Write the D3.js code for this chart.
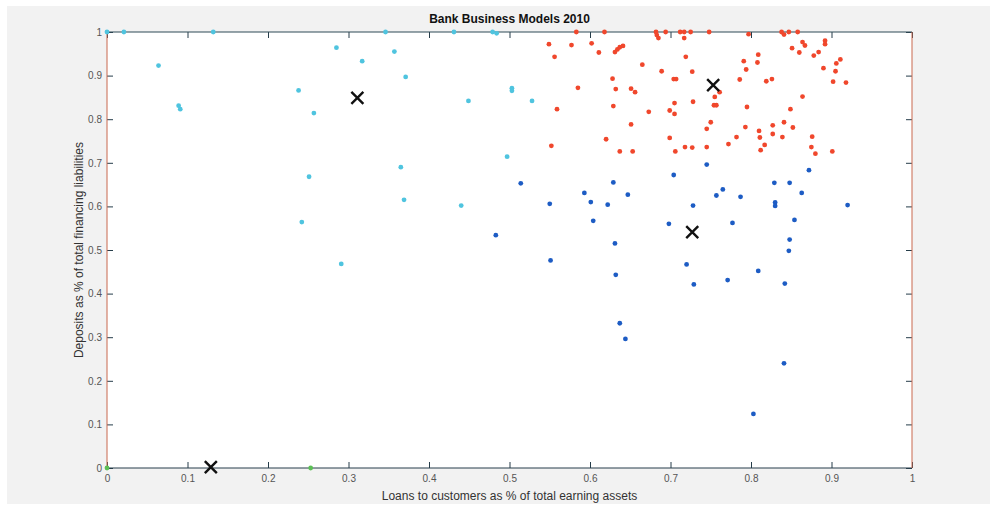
<!DOCTYPE html>
<html>
<head>
<meta charset="utf-8">
<script src="https://cdn.jsdelivr.net/npm/d3@7"></script>
<style>
  body { margin: 0; background: #ffffff; }
  svg { display: block; font-family: "Liberation Sans", Arial, sans-serif; }
</style>
</head>
<body>
<svg id="chart" width="990" height="510"></svg>
<script>
// cluster members, [loans share, deposits share]
const cyanBanks = [
  [0.0, 1.0], [0.021, 1.0], [0.132, 1.0], [0.064, 0.923], [0.089, 0.831], [0.091, 0.823],
  [0.238, 0.866], [0.257, 0.814], [0.251, 0.668], [0.285, 0.964], [0.346, 1.0], [0.431, 1.0],
  [0.479, 1.0], [0.484, 0.997], [0.357, 0.955], [0.317, 0.933], [0.371, 0.897], [0.449, 0.842],
  [0.503, 0.871], [0.503, 0.865], [0.528, 0.842], [0.497, 0.714], [0.365, 0.690], [0.369, 0.615],
  [0.242, 0.564], [0.440, 0.602], [0.291, 0.468]
];
const redBanks = [
  [0.583, 1.0], [0.618, 1.0], [0.682, 1.0], [0.683, 0.993], [0.685, 0.986], [0.694, 1.0],
  [0.712, 1.0], [0.717, 1.0], [0.725, 1.0], [0.748, 1.0], [0.549, 0.972], [0.577, 0.970],
  [0.602, 0.974], [0.717, 0.986], [0.556, 0.943], [0.611, 0.953], [0.631, 0.954], [0.634, 0.960],
  [0.637, 0.965], [0.641, 0.968], [0.719, 0.943], [0.665, 0.925], [0.689, 0.910], [0.727, 0.909],
  [0.704, 0.892], [0.707, 0.892], [0.628, 0.893], [0.585, 0.872], [0.632, 0.869], [0.651, 0.870],
  [0.656, 0.862], [0.761, 0.862], [0.755, 0.851], [0.705, 0.837], [0.728, 0.840], [0.754, 0.832],
  [0.757, 0.832], [0.559, 0.823], [0.629, 0.830], [0.673, 0.817], [0.699, 0.820], [0.705, 0.812],
  [0.750, 0.793], [0.745, 0.778], [0.651, 0.788], [0.620, 0.754], [0.699, 0.757], [0.772, 0.743],
  [0.552, 0.739], [0.637, 0.726], [0.653, 0.726], [0.706, 0.726], [0.718, 0.736], [0.727, 0.735],
  [0.745, 0.736], [0.797, 0.995], [0.838, 1.0], [0.841, 0.994], [0.847, 1.0], [0.858, 1.0],
  [0.851, 0.963], [0.864, 0.977], [0.867, 0.969], [0.860, 0.953], [0.892, 0.980], [0.892, 0.972],
  [0.884, 0.954], [0.878, 0.946], [0.809, 0.948], [0.808, 0.930], [0.791, 0.933], [0.794, 0.914],
  [0.911, 0.937], [0.906, 0.928], [0.905, 0.910], [0.890, 0.917], [0.902, 0.886], [0.918, 0.884],
  [0.786, 0.891], [0.819, 0.887], [0.826, 0.892], [0.864, 0.852], [0.795, 0.828], [0.849, 0.823],
  [0.841, 0.793], [0.852, 0.781], [0.793, 0.782], [0.827, 0.786], [0.827, 0.766], [0.810, 0.773],
  [0.811, 0.758], [0.839, 0.759], [0.782, 0.759], [0.876, 0.760], [0.875, 0.736], [0.880, 0.721],
  [0.817, 0.741], [0.812, 0.729], [0.901, 0.726]
];
const blueBanks = [
  [0.514, 0.653], [0.550, 0.606], [0.483, 0.534], [0.551, 0.476], [0.593, 0.631], [0.601, 0.610],
  [0.629, 0.655], [0.622, 0.604], [0.647, 0.627], [0.604, 0.567], [0.631, 0.515], [0.632, 0.443],
  [0.637, 0.332], [0.644, 0.296], [0.704, 0.672], [0.745, 0.696], [0.757, 0.625], [0.728, 0.602],
  [0.698, 0.560], [0.720, 0.467], [0.729, 0.421], [0.765, 0.639], [0.872, 0.683], [0.829, 0.654],
  [0.848, 0.654], [0.863, 0.631], [0.787, 0.622], [0.830, 0.609], [0.830, 0.601], [0.920, 0.603],
  [0.854, 0.569], [0.777, 0.562], [0.848, 0.524], [0.847, 0.498], [0.809, 0.452], [0.771, 0.431],
  [0.842, 0.423], [0.841, 0.240], [0.803, 0.124]
];
const greenBanks = [[0.0, 0.0], [0.253, 0.0]];
const centroids = [[0.311, 0.849], [0.753, 0.878], [0.727, 0.541], [0.129, 0.002]];

const xTicks = [0, 0.1, 0.2, 0.3, 0.4, 0.5, 0.6, 0.7, 0.8, 0.9, 1];
const yTicks = [0, 0.1, 0.2, 0.3, 0.4, 0.5, 0.6, 0.7, 0.8, 0.9, 1];

const svg = d3.select('#chart');
const plotLeft = 107, plotRight = 912, plotTop = 32, plotBottom = 468;

// figure background
svg.append('rect').attr('x', 7).attr('y', 6).attr('width', 983).attr('height', 498).attr('fill', '#f2f2f2');
svg.append('rect').attr('x', plotLeft).attr('y', plotTop)
  .attr('width', plotRight - plotLeft).attr('height', plotBottom - plotTop).attr('fill', '#ffffff');

const x = d3.scaleLinear().domain([0, 1]).range([plotLeft, plotRight]);
const y = d3.scaleLinear().domain([0, 1]).range([plotBottom, plotTop]);

const fmt = d => String(+d.toFixed(1));

function styleAxis(g) {
  g.select('.domain').remove();
  g.selectAll('.tick line').attr('stroke', '#263d4a').attr('stroke-width', 1);
  g.selectAll('.tick text').attr('fill', '#555').attr('font-size', 10);
}

svg.append('g').attr('transform', `translate(0,${plotBottom})`)
  .call(d3.axisBottom(x).tickValues(xTicks).tickFormat(fmt).tickSizeInner(-6).tickPadding(7))
  .call(styleAxis);
svg.append('g').attr('transform', `translate(0,${plotTop})`)
  .call(d3.axisTop(x).tickValues(xTicks).tickFormat('').tickSizeInner(-6))
  .call(styleAxis);
svg.append('g').attr('transform', `translate(${plotLeft},0)`)
  .call(d3.axisLeft(y).tickValues(yTicks).tickFormat(fmt).tickSizeInner(-6).tickPadding(5))
  .call(styleAxis);
svg.append('g').attr('transform', `translate(${plotRight},0)`)
  .call(d3.axisRight(y).tickValues(yTicks).tickFormat('').tickSizeInner(-6))
  .call(styleAxis);

// box
svg.append('line').attr('x1', plotLeft).attr('x2', plotRight).attr('y1', plotTop).attr('y2', plotTop).attr('stroke', '#2f4a56');
svg.append('line').attr('x1', plotLeft).attr('x2', plotRight).attr('y1', plotBottom).attr('y2', plotBottom).attr('stroke', '#263d4a');
svg.append('line').attr('x1', plotLeft).attr('x2', plotLeft).attr('y1', plotTop).attr('y2', plotBottom).attr('stroke', '#c9694e');
svg.append('line').attr('x1', plotRight).attr('x2', plotRight).attr('y1', plotTop).attr('y2', plotBottom).attr('stroke', '#c9694e');

function drawDots(data, color) {
  svg.append('g').selectAll('circle').data(data).join('circle')
    .attr('cx', d => x(d[0])).attr('cy', d => y(d[1])).attr('r', 2.4)
    .attr('fill', color);
}
drawDots(cyanBanks, '#4fc4df');
drawDots(redBanks, '#f0472c');
drawDots(blueBanks, '#1d5cc4');
drawDots(greenBanks, '#5cbf55');

const cross = svg.append('g').selectAll('g').data(centroids).join('g')
  .attr('transform', d => `translate(${x(d[0])},${y(d[1])})`);
cross.append('path').attr('d', 'M-6,-6L6,6M-6,6L6,-6')
  .attr('stroke', '#111').attr('stroke-width', 2.4).attr('fill', 'none');

svg.append('text').attr('x', (plotLeft + plotRight) / 2).attr('y', 23).attr('text-anchor', 'middle')
  .attr('font-size', 12).attr('font-weight', 'bold').attr('fill', '#111')
  .text('Bank Business Models 2010');
svg.append('text').attr('x', (plotLeft + plotRight) / 2).attr('y', 500).attr('text-anchor', 'middle')
  .attr('font-size', 12).attr('fill', '#333')
  .text('Loans to customers as % of total earning assets');
svg.append('text').attr('transform', `translate(83,${(plotTop + plotBottom) / 2}) rotate(-90)`)
  .attr('text-anchor', 'middle').attr('font-size', 12).attr('fill', '#333')
  .text('Deposits as % of total financing liabilities');
</script>
</body>
</html>
